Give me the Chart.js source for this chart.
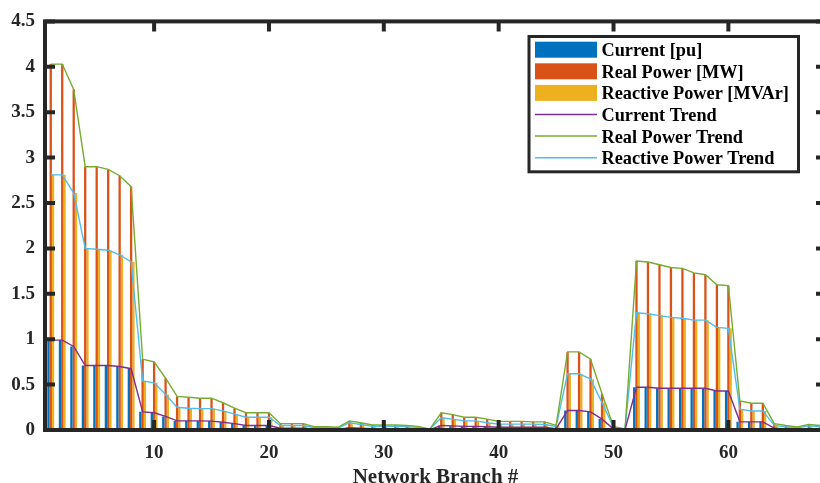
<!DOCTYPE html>
<html>
<head>
<meta charset="utf-8">
<script src="https://cdn.jsdelivr.net/npm/chart.js@4.4.1/dist/chart.umd.min.js"></script>
<style>
html, body { margin: 0; padding: 0; overflow: hidden; background: #fff; width: 820px; height: 483px; }
#wrap { position: absolute; left: 0; top: 0; width: 826px; height: 490px; }
</style>
</head>
<body>
<div id="wrap"><canvas id="c"></canvas></div>
<script>
const branches = [1,2,3,4,5,6,7,8,9,10,11,12,13,14,15,16,17,18,19,20,21,22,23,24,25,26,27,28,29,30,31,32,33,34,35,36,37,38,39,40,41,42,43,44,45,46,47,48,49,50,51,52,53,54,55,56,57,58,59,60,61,62,63,64,65,66,67,68];
const current = [0.99,0.99,0.92,0.71,0.71,0.71,0.70,0.675,0.20,0.19,0.15,0.10,0.10,0.10,0.098,0.085,0.07,0.05,0.05,0.05,0.02,0.02,0.02,0.01,0.01,0.005,0.025,0.02,0.015,0.015,0.015,0.012,0.01,0.003,0.05,0.045,0.04,0.04,0.035,0.03,0.03,0.03,0.03,0.03,0.015,0.215,0.215,0.20,0.12,0.01,0.003,0.47,0.47,0.46,0.46,0.46,0.46,0.46,0.43,0.43,0.09,0.09,0.09,0.02,0.012,0.008,0.015,0.012];
const realPower = [4.03,4.03,3.75,2.90,2.90,2.87,2.80,2.68,0.78,0.75,0.57,0.37,0.36,0.35,0.35,0.30,0.24,0.19,0.19,0.19,0.07,0.07,0.07,0.035,0.035,0.03,0.10,0.08,0.055,0.055,0.055,0.05,0.04,0.01,0.19,0.17,0.14,0.14,0.12,0.095,0.095,0.095,0.09,0.09,0.05,0.86,0.86,0.78,0.40,0.04,0.01,1.86,1.85,1.82,1.79,1.78,1.73,1.71,1.60,1.59,0.32,0.295,0.295,0.07,0.05,0.035,0.06,0.05];
const reactivePower = [2.81,2.81,2.61,2.00,1.99,1.98,1.93,1.85,0.54,0.52,0.39,0.25,0.24,0.235,0.235,0.21,0.175,0.14,0.14,0.14,0.05,0.05,0.05,0.025,0.025,0.02,0.08,0.06,0.04,0.04,0.04,0.035,0.03,0.01,0.135,0.12,0.10,0.10,0.08,0.065,0.065,0.065,0.065,0.06,0.04,0.62,0.62,0.56,0.30,0.03,0.01,1.29,1.28,1.26,1.24,1.23,1.21,1.21,1.13,1.12,0.23,0.21,0.21,0.05,0.035,0.025,0.045,0.035];
const xTickValues = [10,20,30,40,50,60];
const yTickValues = [0,0.5,1,1.5,2,2.5,3,3.5,4,4.5];

const pts = arr => branches.map((b, i) => ({x: b, y: arr[i]}));
const AX = '#262626';
const SERIF = '"Liberation Serif", "Times New Roman", serif';

const framePlugin = {
  id: 'frame',
  afterDatasetsDraw(chart) {
    const {ctx, chartArea: a, scales} = chart;
    ctx.save();
    ctx.strokeStyle = AX;
    ctx.lineWidth = 4;
    ctx.lineCap = 'butt';
    ctx.beginPath();
    for (const v of yTickValues) {
      const y = scales.y.getPixelForValue(v);
      ctx.moveTo(a.left, y); ctx.lineTo(a.left + 10, y);
      ctx.moveTo(a.right, y); ctx.lineTo(a.right - 10, y);
    }
    for (const v of xTickValues) {
      const x = scales.x.getPixelForValue(v);
      ctx.moveTo(x, a.bottom); ctx.lineTo(x, a.bottom - 10);
      ctx.moveTo(x, a.top); ctx.lineTo(x, a.top + 10);
    }
    ctx.stroke();
    ctx.strokeRect(a.left, a.top, a.right - a.left, a.bottom - a.top);
    ctx.restore();
  }
};

const legendPlugin = {
  id: 'boxLegend',
  afterDraw(chart) {
    const {ctx} = chart;
    const order = [0,1,2,3,4,5];
    ctx.save();
    ctx.fillStyle = '#fff';
    ctx.fillRect(529, 36.5, 269.5, 135.3);
    ctx.strokeStyle = AX;
    ctx.lineWidth = 3;
    ctx.strokeRect(529, 36.5, 269.5, 135.3);
    ctx.font = 'bold 18.3px ' + SERIF;
    ctx.textBaseline = 'alphabetic';
    ctx.textAlign = 'left';
    order.forEach((di, k) => {
      const ds = chart.data.datasets[di];
      const cy = 49.7 + k * 21.6;
      if (ds.type === 'line') {
        ctx.strokeStyle = ds.borderColor;
        ctx.lineWidth = 1.5;
        ctx.beginPath();
        ctx.moveTo(535, cy); ctx.lineTo(597, cy);
        ctx.stroke();
      } else {
        ctx.fillStyle = ds.backgroundColor;
        ctx.fillRect(535, cy - 8, 62, 16);
      }
      ctx.fillStyle = '#000';
      ctx.fillText(ds.label, 601.5, cy + 6.5);
    });
    ctx.restore();
  }
};

new Chart(document.getElementById('c'), {
  type: 'bar',
  data: {
    datasets: [
      {label: 'Current [pu]', data: pts(current), backgroundColor: '#0072BD', order: 1, categoryPercentage: 0.6, barPercentage: 1.0},
      {label: 'Real Power [MW]', data: pts(realPower), backgroundColor: '#D95319', order: 1, categoryPercentage: 0.6, barPercentage: 1.0},
      {label: 'Reactive Power [MVAr]', data: pts(reactivePower), backgroundColor: '#EDB120', order: 1, categoryPercentage: 0.6, barPercentage: 1.0},
      {type: 'line', label: 'Current Trend', data: pts(current), borderColor: '#7E2F8E', borderWidth: 1.4, pointRadius: 0, tension: 0, fill: false, order: 0},
      {type: 'line', label: 'Real Power Trend', data: pts(realPower), borderColor: '#77AC30', borderWidth: 1.4, pointRadius: 0, tension: 0, fill: false, order: 0},
      {type: 'line', label: 'Reactive Power Trend', data: pts(reactivePower), borderColor: '#4DBEEE', borderWidth: 1.4, pointRadius: 0, tension: 0, fill: false, order: 0}
    ]
  },
  options: {
    responsive: true,
    maintainAspectRatio: false,
    animation: false,
    devicePixelRatio: 1,
    layout: {padding: {top: 19, left: 0, right: 0, bottom: 0}},
    plugins: {legend: {display: false}, tooltip: {enabled: false}},
    scales: {
      x: {
        type: 'linear',
        min: 0.5,
        max: 68.5,
        offset: false,
        grid: {display: false, drawTicks: false},
        border: {display: false},
        afterBuildTicks: s => { s.ticks = xTickValues.map(v => ({value: v})); },
        afterFit: s => { s.height = 60; },
        ticks: {padding: 12, color: AX, font: {family: SERIF, weight: 'bold', size: 19}, maxRotation: 0, autoSkip: false, callback: v => String(v)},
        title: {display: true, text: 'Network Branch #', color: AX, font: {family: SERIF, weight: 'bold', size: 21}, padding: {top: 0, bottom: 0}}
      },
      y: {
        min: 0,
        max: 4.5,
        grid: {display: false, drawTicks: false},
        border: {display: false},
        afterBuildTicks: s => { s.ticks = yTickValues.map(v => ({value: v})); },
        afterFit: s => { s.width = 45; },
        ticks: {padding: 10, color: AX, font: {family: SERIF, weight: 'bold', size: 19}, autoSkip: false, callback: v => String(v)}
      }
    }
  },
  plugins: [framePlugin, legendPlugin]
});
</script>
</body>
</html>
